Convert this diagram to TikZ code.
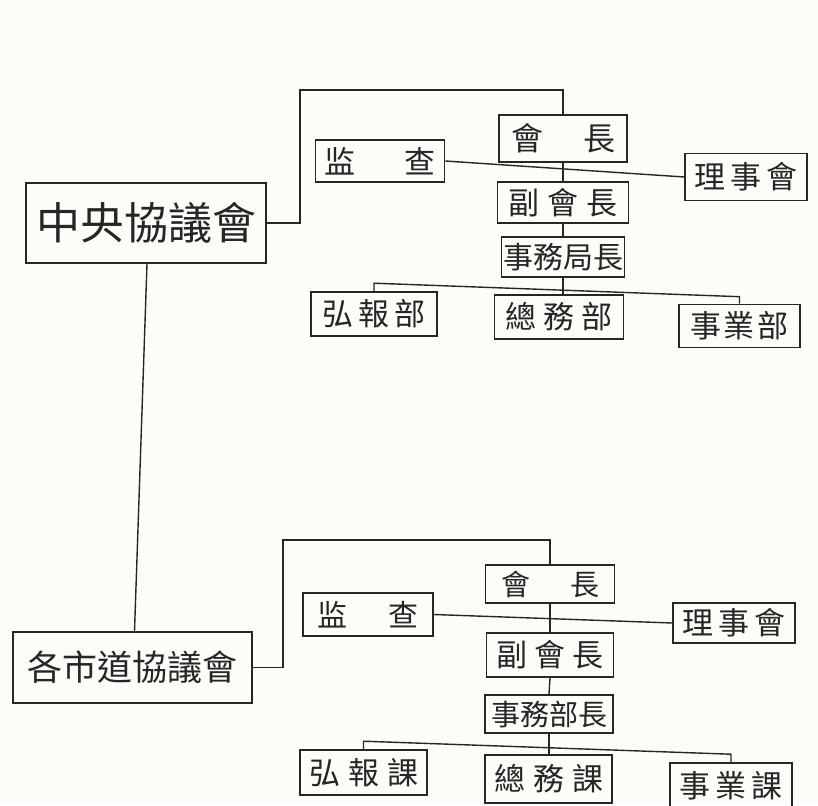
\documentclass[tikz,border=0pt]{standalone}
\usepackage{fontspec}
\newfontfamily\cjk{Noto Sans CJK TC}
\definecolor{ink}{HTML}{262626}
\definecolor{paper}{HTML}{FCFCF9}
\newcommand\fs[1]{\cjk\fontsize{#1}{#1}\selectfont}
\newcommand\gp[1]{\hspace{#1pt}}
\tikzset{
  orgbox/.style={draw=ink, line width=1.6pt, inner sep=0pt, text=ink, font=\fs{31}, anchor=center},
  wire/.style={draw=ink, line width=1.4pt},
}
\begin{document}
\begin{tikzpicture}[x=1pt,y=-1pt]
\useasboundingbox (0,0) rectangle (818,805);
\clip (0,0) rectangle (818,805);
\fill[paper] (0,0) rectangle (818,805);

% ---------- upper chart ----------
\node[orgbox, minimum width=240pt, minimum height=80pt, font=\fs{44}] (cc) at (146,223) {中央協議會};
\node[orgbox, minimum width=129pt, minimum height=42pt] (jk1) at (380,161) {监\gp{50}查};
\node[orgbox, minimum width=128pt, minimum height=47pt, font=\fs{32}] (kc1) at (563,138.5) {會\gp{40}長};
\node[orgbox, minimum width=122pt, minimum height=47pt] (ri1) at (746,177) {理\gp{5.5}事\gp{5.5}會};
\node[orgbox, minimum width=131pt, minimum height=41pt] (fk1) at (563,202.5) {副\gp{8.5}會\gp{8.5}長};
\node[orgbox, minimum width=123pt, minimum height=40pt, font=\fs{30}] (jm1) at (563,257) {事務局長};
\node[orgbox, minimum width=126pt, minimum height=44pt] (hb1) at (374,314) {弘\gp{5}報\gp{5}部};
\node[orgbox, minimum width=129pt, minimum height=44pt] (zm1) at (559,317) {總\gp{7}務\gp{7}部};
\node[orgbox, minimum width=121pt, minimum height=43pt] (ky1) at (739.5,326) {事\gp{2.5}業\gp{2.5}部};

\coordinate (t1) at (300,90);
\draw[wire] (cc.east) -| (t1) -| (kc1.north);
\draw[wire] (jk1.east) -- (ri1.west);
\draw[wire] (kc1.south) -- (fk1.north);
\draw[wire] (fk1.south) -- (jm1.north);
\draw[wire] (jm1.south) -- (jm1.south |- zm1.north);
\draw[wire] (hb1.north) -- ++(0,-8) -- ([yshift=7pt]ky1.north) -- (ky1.north);

% ---------- lower chart ----------
\node[orgbox, minimum width=239pt, minimum height=71pt, font=\fs{35}] (gs) at (132.5,667.5) {各市道協議會};
\node[orgbox, minimum width=130pt, minimum height=43pt, font=\fs{30}] (jk2) at (368,614.5) {监\gp{41}查};
\node[orgbox, minimum width=129pt, minimum height=38pt, font=\fs{29}] (kc2) at (550,584) {會\gp{40}長};
\node[orgbox, minimum width=122pt, minimum height=40pt] (ri2) at (734,623) {理\gp{5.5}事\gp{5.5}會};
\node[orgbox, minimum width=127pt, minimum height=44pt] (fk2) at (550,655) {副\gp{7}會\gp{7}長};
\node[orgbox, minimum width=128pt, minimum height=38pt, font=\fs{29}] (jm2) at (549,714) {事務部長};
\node[orgbox, minimum width=127pt, minimum height=45pt] (hb2) at (363.5,772.5) {弘\gp{8}報\gp{8}課};
\node[orgbox, minimum width=127pt, minimum height=48pt] (zm2) at (548.5,779) {總\gp{8}務\gp{8}課};
\node[orgbox, minimum width=122pt, minimum height=46pt] (ky2) at (731,786) {事\gp{5}業\gp{5}課};

% ---------- link between councils ----------
\draw[wire] ([xshift=1pt]cc.south) -- ([xshift=2pt]gs.north);

\coordinate (t2) at (283,540);
\draw[wire] (gs.east) -| (t2) -| (kc2.north);
\draw[wire] (jk2.east) -- (ri2.west);
\draw[wire] (kc2.south) -- (fk2.north);
\draw[wire] (fk2.south) -- (jm2.north);
\draw[wire] (jm2.south) -- (jm2.south |- zm2.north);
\draw[wire] (hb2.north) -- ++(0,-8) -- ([yshift=8pt]ky2.north) -- (ky2.north);
\end{tikzpicture}
\end{document}
